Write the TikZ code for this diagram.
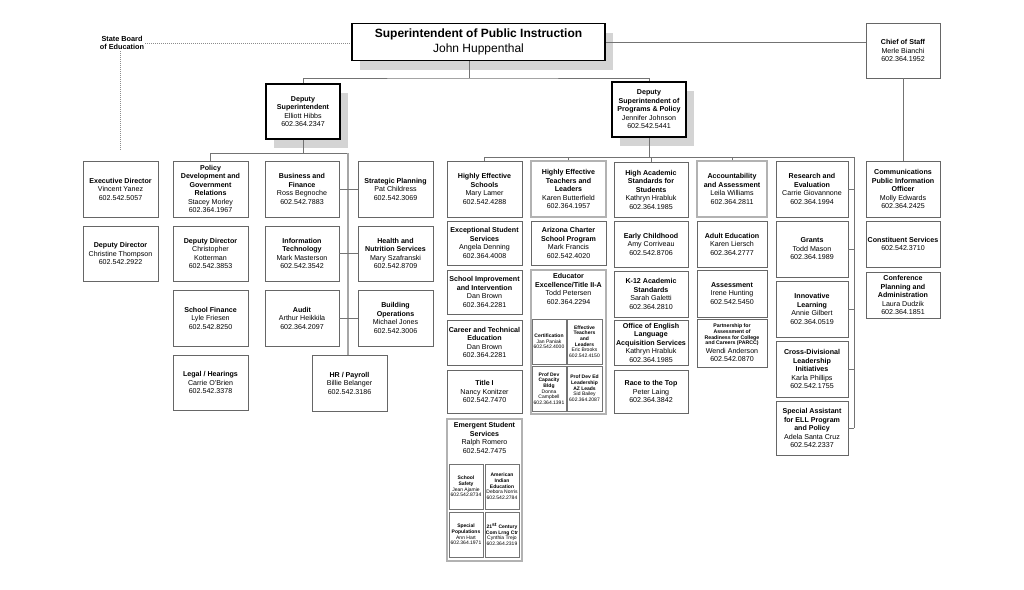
\documentclass[tikz,border=0pt]{standalone}
\usepackage{fontspec}
\setmainfont{Liberation Sans}
\usetikzlibrary{positioning,shadows}

\tikzset{
    orgbox/.style={draw=black!60, line width=0.6pt, fill=white, align=center,
        inner sep=1pt, font=\fontsize{7.1}{8.5}\selectfont},
    grpbox/.style={orgbox, draw=black!30, line width=1.3pt},
    headbox/.style={orgbox, draw=black, line width=1.6pt,
        drop shadow={shadow xshift=8pt, shadow yshift=-9pt, fill=black!17, opacity=1}},
    subbox/.style={orgbox, draw=black!55, line width=0.5pt, inner sep=0.5pt,
        font=\fontsize{5}{5.7}\selectfont},
    orgtext/.style={align=center, inner sep=1pt, font=\fontsize{7.1}{8.5}\selectfont},
    link/.style={draw=black!55, line width=0.6pt},
    spine/.style={draw=black!35, line width=1.4pt},
    boardlink/.style={draw=black!45, line width=0.6pt, dash pattern=on 0.7pt off 1.3pt}
}
\newcommand{\smallttl}[1]{{\fontsize{5.2}{5.6}\selectfont\textbf{#1}}}

\begin{document}
\begin{tikzpicture}[x=1pt,y=-1pt]
                    \useasboundingbox (0,0) rectangle (1024,589);

                    % Top level
                    \node[headbox, font=\fontsize{12}{15}\selectfont, minimum width=253pt, minimum height=37pt] (sup) at (478.5,42)
                        {\textbf{Superintendent of Public Instruction}\\John Huppenthal};
                    \node[orgbox, minimum width=74pt, minimum height=55pt] (chief) at (903,50.5)
                        {\textbf{Chief of Staff}\\Merle Bianchi\\602.364.1952};
                    \node[orgtext, font=\bfseries\fontsize{7.3}{8.6}\selectfont] (board) at (122,43) {State Board\\of Education};

                    % Deputies
                    \node[headbox, minimum width=74pt, minimum height=55pt] (dep1) at (303,111.5)
                        {\textbf{Deputy}\\\textbf{Superintendent}\\Elliott Hibbs\\602.364.2347};
                    \node[headbox, minimum width=74pt, minimum height=55pt] (dep2) at (649,109.5)
                        {\textbf{Deputy}\\\textbf{Superintendent of}\\\textbf{Programs \& Policy}\\Jennifer Johnson\\602.542.5441};

                    % Left side, first two columns
                    \node[orgbox, minimum width=75pt, minimum height=56pt] (exec) at (120.5,189)
                        {\textbf{Executive Director}\\Vincent Yanez\\602.542.5057};
                    \node[orgbox, minimum width=75pt, minimum height=55pt] (ddirA) at (120.5,253.5)
                        {\textbf{Deputy Director}\\Christine Thompson\\602.542.2922};
                    \node[orgbox, minimum width=75pt, minimum height=56pt] (policy) at (210.5,189)
                        {\textbf{Policy}\\\textbf{Development and}\\\textbf{Government}\\\textbf{Relations}\\Stacey Morley\\602.364.1967};
                    \node[orgbox, minimum width=75pt, minimum height=55pt] (ddirB) at (210.5,253.5)
                        {\textbf{Deputy Director}\\Christopher\\Kotterman\\602.542.3853};
                    \node[orgbox, minimum width=75pt, minimum height=56pt] (finance) at (210.5,318)
                        {\textbf{School Finance}\\Lyle Friesen\\602.542.8250};
                    \node[orgbox, minimum width=75pt, minimum height=55pt] (legal) at (210.5,382.5)
                        {\textbf{Legal / Hearings}\\Carrie O'Brien\\602.542.3378};

                    % Left side, boxes on the spine
                    \node[orgbox, minimum width=74pt, minimum height=56pt] (business) at (302,189)
                        {\textbf{Business and}\\\textbf{Finance}\\Ross Begnoche\\602.542.7883};
                    \node[orgbox, minimum width=74pt, minimum height=55pt] (infotech) at (302,253.5)
                        {\textbf{Information}\\\textbf{Technology}\\Mark Masterson\\602.542.3542};
                    \node[orgbox, minimum width=74pt, minimum height=56pt] (audit) at (302,318)
                        {\textbf{Audit}\\Arthur Heikkila\\602.364.2097};
                    \node[orgbox, minimum width=75pt, minimum height=56pt] (strategic) at (395.5,189)
                        {\textbf{Strategic Planning}\\Pat Childress\\602.542.3069};
                    \node[orgbox, minimum width=75pt, minimum height=55pt] (health) at (395.5,253.5)
                        {\textbf{Health and}\\\textbf{Nutrition Services}\\Mary Szafranski\\602.542.8709};
                    \node[orgbox, minimum width=75pt, minimum height=56pt] (building) at (395.5,318)
                        {\textbf{Building}\\\textbf{Operations}\\Michael Jones\\602.542.3006};
                    \node[orgbox, minimum width=75pt, minimum height=56pt] (hr) at (349.5,383)
                        {\textbf{HR / Payroll}\\Billie Belanger\\602.542.3186};

                    % Right side, column A
                    \node[orgbox, minimum width=75pt, minimum height=56pt] (hes) at (484.5,189)
                        {\textbf{Highly Effective}\\\textbf{Schools}\\Mary Lamer\\602.542.4288};
                    \node[orgbox, minimum width=75pt, minimum height=44pt] (exc) at (484.5,243)
                        {\textbf{Exceptional Student}\\\textbf{Services}\\Angela Denning\\602.364.4008};
                    \node[orgbox, minimum width=75pt, minimum height=44pt] (simp) at (484.5,292)
                        {\textbf{School Improvement}\\\textbf{and Intervention}\\Dan Brown\\602.364.2281};
                    \node[orgbox, minimum width=75pt, minimum height=45pt] (career) at (484.5,342.5)
                        {\textbf{Career and Technical}\\\textbf{Education}\\Dan Brown\\602.364.2281};
                    \node[orgbox, minimum width=75pt, minimum height=43pt] (titleI) at (484.5,391.5)
                        {\textbf{Title I}\\Nancy Konitzer\\602.542.7470};
                    \node[grpbox, minimum width=75pt, minimum height=142pt] (emergent) at (484.5,490) {};
                    \node[orgtext, anchor=north] (emergtxt) at ([yshift=-3pt]emergent.north)
                        {\textbf{Emergent Student}\\\textbf{Services}\\Ralph Romero\\602.542.7475};
                    \node[subbox, minimum width=34pt, minimum height=45pt] (safety) at (466,486.5)
                        {\textbf{School}\\\textbf{Safety}\\Jean Ajamie\\602.542.8734};
                    \node[subbox, minimum width=34pt, minimum height=45pt] (amind) at (502,486.5)
                        {\textbf{American}\\\textbf{Indian}\\\textbf{Education}\\Debora Norris\\602.542.2784};
                    \node[subbox, minimum width=34pt, minimum height=45pt] (specpop) at (466,534.5)
                        {\textbf{Special}\\\textbf{Populations}\\Ann Hart\\602.364.1971};
                    \node[subbox, minimum width=34pt, minimum height=45pt] (century) at (502,534.5)
                        {\textbf{21\textsuperscript{st} Century}\\\textbf{Com Lrng Ctr}\\Cynthia Trejo\\602.364.2319};

                    % Right side, column B
                    \node[grpbox, minimum width=75pt, minimum height=56pt] (het) at (568.5,189)
                        {\textbf{Highly Effective}\\\textbf{Teachers and}\\\textbf{Leaders}\\Karen Butterfield\\602.364.1957};
                    \node[orgbox, minimum width=75pt, minimum height=44pt] (charter) at (568.5,243)
                        {\textbf{Arizona Charter}\\\textbf{School Program}\\Mark Francis\\602.542.4020};
                    \node[grpbox, minimum width=75pt, minimum height=144pt] (educ) at (568.5,342) {};
                    \node[orgtext, anchor=north] (eductxt) at ([yshift=-3pt]educ.north)
                        {\textbf{Educator}\\\textbf{Excellence/Title II-A}\\Todd Petersen\\602.364.2294};
                    \node[subbox, minimum width=34pt, minimum height=45pt] (cert) at (549,341.5)
                        {\textbf{Certification}\\Jan Paniak\\602.542.4000};
                    \node[subbox, minimum width=35pt, minimum height=45pt] (efft) at (584.5,341.5)
                        {\textbf{Effective}\\\textbf{Teachers}\\\textbf{and}\\\textbf{Leaders}\\Eric Brooks\\602.542.4150};
                    \node[subbox, minimum width=34pt, minimum height=45pt] (profcap) at (549,388.5)
                        {\textbf{Prof Dev}\\\textbf{Capacity}\\\textbf{Bldg}\\Donna\\Campbell\\602.364.1391};
                    \node[subbox, minimum width=35pt, minimum height=45pt] (profed) at (584.5,388.5)
                        {\textbf{Prof Dev Ed}\\\textbf{Leadership}\\\textbf{AZ Leads}\\Sid Bailey\\602.364.2087};

                    % Right side, column C
                    \node[orgbox, minimum width=74pt, minimum height=55pt] (has) at (651,189.5)
                        {\textbf{High Academic}\\\textbf{Standards for}\\\textbf{Students}\\Kathryn Hrabluk\\602.364.1985};
                    \node[orgbox, minimum width=74pt, minimum height=46pt] (early) at (651,244)
                        {\textbf{Early Childhood}\\Amy Corriveau\\602.542.8706};
                    \node[orgbox, minimum width=74pt, minimum height=46pt] (kacad) at (651,294)
                        {\textbf{K-12 Academic}\\\textbf{Standards}\\Sarah Galetti\\602.364.2810};
                    \node[orgbox, minimum width=74pt, minimum height=45pt] (oelas) at (651,342.5)
                        {\textbf{Office of English}\\\textbf{Language}\\\textbf{Acquisition Services}\\Kathryn Hrabluk\\602.364.1985};
                    \node[orgbox, minimum width=74pt, minimum height=43pt] (rttt) at (651,391.5)
                        {\textbf{Race to the Top}\\Peter Laing\\602.364.3842};

                    % Right side, column D
                    \node[grpbox, minimum width=70pt, minimum height=56pt] (acct) at (732,189)
                        {\textbf{Accountability}\\\textbf{and Assessment}\\Leila Williams\\602.364.2811};
                    \node[orgbox, minimum width=70pt, minimum height=46pt] (adult) at (732,244)
                        {\textbf{Adult Education}\\Karen Liersch\\602.364.2777};
                    \node[orgbox, minimum width=70pt, minimum height=47pt] (assess) at (732,293.5)
                        {\textbf{Assessment}\\Irene Hunting\\602.542.5450};
                    \node[orgbox, minimum width=70pt, minimum height=48pt] (parcc) at (732,343)
                        {\smallttl{Partnership for}\\[-2.9pt]\smallttl{Assessment of}\\[-2.9pt]\smallttl{Readiness for College}\\[-2.9pt]\smallttl{and Careers (PARCC)}\\Wendi Anderson\\602.542.0870};

                    % Right side, column E
                    \node[orgbox, minimum width=72pt, minimum height=56pt] (research) at (812,189)
                        {\textbf{Research and}\\\textbf{Evaluation}\\Carrie Giovannone\\602.364.1994};
                    \node[orgbox, minimum width=72pt, minimum height=56pt] (grants) at (812,249)
                        {\textbf{Grants}\\Todd Mason\\602.364.1989};
                    \node[orgbox, minimum width=72pt, minimum height=56pt] (innov) at (812,309)
                        {\textbf{Innovative}\\\textbf{Learning}\\Annie Gilbert\\602.364.0519};
                    \node[orgbox, minimum width=72pt, minimum height=56pt] (cross) at (812,369)
                        {\textbf{Cross-Divisional}\\\textbf{Leadership}\\\textbf{Initiatives}\\Karla Phillips\\602.542.1755};
                    \node[orgbox, minimum width=72pt, minimum height=54pt] (special) at (812,428)
                        {\textbf{Special Assistant}\\\textbf{for ELL Program}\\\textbf{and Policy}\\Adela Santa Cruz\\602.542.2337};

                    % Chief of staff column
                    \node[orgbox, minimum width=74pt, minimum height=56pt] (comm) at (903,189)
                        {\textbf{Communications}\\\textbf{Public Information}\\\textbf{Officer}\\Molly Edwards\\602.364.2425};
                    \node[orgbox, minimum width=74pt, minimum height=46pt] (const) at (903,244)
                        {\textbf{Constituent Services}\\602.542.3710};
                    \node[orgbox, minimum width=74pt, minimum height=46pt] (conf) at (903,295)
                        {\textbf{Conference}\\\textbf{Planning and}\\\textbf{Administration}\\Laura Dudzik\\602.364.1851};

                    % Lines from the top
                    \coordinate (topbus) at (469,78);
                    \draw[link] (sup.south -| topbus) -- (topbus);
                    \draw[link] (dep1.north) |- (topbus) -| (dep2.north);
                    \draw[link] (sup.east) -- (sup.east -| chief.west);
                    \draw[link] (chief.south) -- (comm.north);

                    % Dotted line of the board
                    \coordinate (boardend) at (120,150);
                    \draw[boardlink] (board.east) -- (board.east -| sup.west);
                    \draw[boardlink] (board.south -| boardend) -- (boardend);

                    % Left tree
                    \coordinate (lbus) at (348,153);
                    \draw[link] (dep1.south) -- (dep1.south |- lbus);
                    \draw[link] (policy.north) |- (lbus);
                    \draw[spine] (lbus) -- (lbus |- hr.north);
                    \foreach \a/\b in {business/strategic,infotech/health,audit/building}
                        \draw[link] (\a.east) -- (\b.west);

                    % Right tree
                    \coordinate (rbus) at (854,157);
                    \draw[link] (dep2.south) -- (dep2.south |- rbus);
                    \draw[link] (hes.north) |- (rbus) -- (rbus |- special.east);
                    \foreach \n in {het,has,acct}
                        \draw[link] (\n.north) -- (\n.north |- rbus);
                    \foreach \n in {research,grants,innov,cross,special}
                        \draw[link] (\n.east) -- (\n.east -| rbus);

\end{tikzpicture}
\end{document}
